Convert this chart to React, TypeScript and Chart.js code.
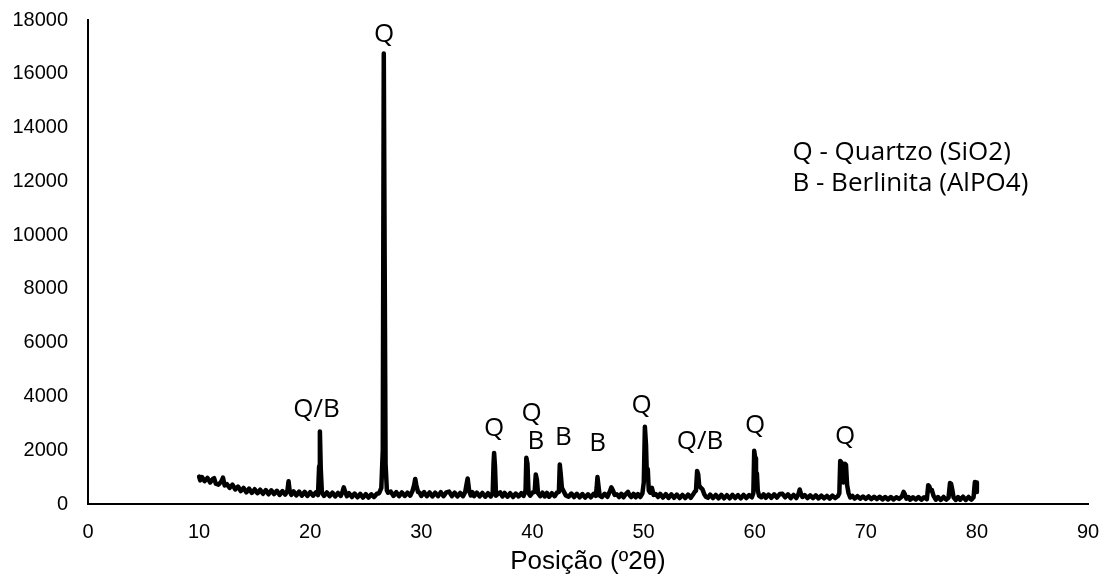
import React, { useEffect, useRef } from "react";
import { Chart, registerables } from "chart.js";

Chart.register(...registerables);

// XRD pattern: [position (°2θ), intensity (counts)]
const xrdPattern: [number, number][] = [
  [10.0, 1020], [10.1, 880], [10.25, 1000], [10.5, 850], [10.75, 970], [11.0, 800],
  [11.25, 940], [11.35, 960], [11.5, 760], [11.75, 720], [12.0, 840], [12.15, 980],
  [12.3, 690], [12.5, 740], [12.75, 600], [13.0, 720], [13.25, 540], [13.5, 650],
  [13.75, 480], [14.0, 600], [14.25, 430], [14.5, 570], [14.75, 410], [15.0, 550],
  [15.25, 400], [15.5, 530], [15.75, 380], [16.0, 520], [16.25, 360], [16.5, 510],
  [16.75, 370], [17.0, 490], [17.25, 340], [17.5, 480], [17.75, 350], [17.95, 500],
  [18.05, 850], [18.15, 480], [18.3, 340], [18.5, 470], [18.75, 320], [19.0, 460],
  [19.25, 310], [19.5, 450], [19.75, 300], [20.0, 440], [20.25, 310], [20.5, 430],
  [20.7, 330], [20.8, 1400], [20.87, 2700], [20.95, 1300], [21.05, 430], [21.25, 300],
  [21.5, 430], [21.75, 290], [22.0, 420], [22.25, 280], [22.5, 410], [22.75, 300],
  [22.9, 450], [23.02, 620], [23.15, 450], [23.3, 290], [23.5, 400], [23.75, 260],
  [24.0, 390], [24.25, 250], [24.5, 380], [24.75, 240], [25.0, 370], [25.25, 240],
  [25.5, 360], [25.75, 260], [26.0, 380], [26.2, 400], [26.4, 600], [26.53, 2000],
  [26.62, 16750], [26.7, 9000], [26.78, 1500], [26.9, 500], [27.0, 420], [27.25, 460],
  [27.5, 300], [27.75, 440], [28.0, 290], [28.25, 430], [28.5, 300], [28.75, 420],
  [29.0, 310], [29.2, 480], [29.35, 700], [29.45, 930], [29.55, 700], [29.7, 450],
  [29.85, 420], [30.0, 300], [30.25, 440], [30.5, 290], [30.75, 430], [31.0, 280],
  [31.25, 420], [31.5, 290], [31.75, 440], [32.0, 290], [32.25, 430], [32.5, 460],
  [32.75, 290], [33.0, 420], [33.25, 280], [33.5, 410], [33.75, 290], [33.95, 450],
  [34.1, 800], [34.17, 950], [34.3, 500], [34.45, 320], [34.6, 440], [34.75, 290],
  [35.0, 420], [35.25, 280], [35.5, 410], [35.75, 270], [36.0, 400], [36.25, 280],
  [36.42, 380], [36.5, 1500], [36.55, 1900], [36.63, 1400], [36.72, 310], [36.9, 380],
  [37.1, 430], [37.3, 280], [37.5, 410], [37.75, 270], [38.0, 400], [38.25, 260],
  [38.5, 390], [38.75, 280], [39.0, 400], [39.2, 300], [39.38, 500], [39.45, 1720],
  [39.55, 1500], [39.65, 400], [39.8, 310], [40.0, 420], [40.2, 450], [40.3, 1100],
  [40.4, 900], [40.5, 400], [40.7, 290], [40.9, 420], [41.1, 280], [41.3, 410],
  [41.5, 270], [41.75, 400], [42.0, 290], [42.2, 420], [42.38, 450], [42.46, 1470],
  [42.55, 1100], [42.65, 600], [42.8, 480], [43.0, 320], [43.25, 270], [43.5, 390],
  [43.75, 260], [44.0, 380], [44.25, 250], [44.5, 370], [44.75, 240], [45.0, 360],
  [45.25, 250], [45.5, 380], [45.7, 300], [45.78, 600], [45.85, 1000], [45.95, 650],
  [46.05, 310], [46.25, 260], [46.5, 380], [46.75, 270], [46.95, 450], [47.1, 620],
  [47.25, 500], [47.4, 340], [47.6, 360], [47.8, 260], [48.0, 380], [48.2, 250],
  [48.4, 370], [48.6, 450], [48.75, 320], [48.9, 260], [49.1, 380], [49.3, 250],
  [49.5, 370], [49.7, 260], [49.9, 400], [50.02, 800], [50.12, 2870], [50.22, 2200],
  [50.3, 1000], [50.38, 1300], [50.47, 500], [50.6, 420], [50.75, 600], [50.9, 340],
  [51.1, 370], [51.3, 260], [51.5, 380], [51.75, 240], [52.0, 370], [52.25, 230],
  [52.5, 360], [52.75, 230], [53.0, 350], [53.25, 220], [53.5, 340], [53.75, 220],
  [54.0, 350], [54.25, 230], [54.45, 350], [54.6, 450], [54.72, 500], [54.82, 1230],
  [54.92, 1100], [55.0, 700], [55.15, 600], [55.3, 550], [55.45, 380], [55.6, 270],
  [55.8, 230], [56.0, 350], [56.25, 220], [56.5, 340], [56.75, 210], [57.0, 340],
  [57.25, 210], [57.5, 330], [57.75, 210], [58.0, 340], [58.25, 220], [58.5, 330],
  [58.75, 210], [59.0, 340], [59.25, 220], [59.5, 330], [59.75, 250], [59.88, 400],
  [59.96, 1980], [60.05, 1700], [60.12, 1000], [60.2, 1150], [60.28, 500], [60.4, 300],
  [60.6, 250], [60.8, 360], [61.0, 230], [61.25, 350], [61.5, 230], [61.75, 360],
  [62.0, 240], [62.25, 370], [62.5, 380], [62.75, 250], [63.0, 360], [63.25, 220],
  [63.5, 340], [63.75, 220], [63.95, 380], [64.05, 540], [64.15, 400], [64.3, 260],
  [64.5, 330], [64.75, 220], [65.0, 320], [65.25, 220], [65.5, 320], [65.75, 210],
  [66.0, 310], [66.25, 210], [66.5, 300], [66.75, 200], [67.0, 310], [67.25, 220],
  [67.5, 300], [67.62, 400], [67.7, 1600], [67.8, 1550], [67.88, 900], [67.98, 800],
  [68.05, 900], [68.12, 1500], [68.22, 1450], [68.32, 700], [68.45, 400], [68.6, 240],
  [68.8, 300], [69.0, 200], [69.25, 290], [69.5, 200], [69.75, 280], [70.0, 190],
  [70.25, 280], [70.5, 180], [70.75, 270], [71.0, 180], [71.25, 270], [71.5, 170],
  [71.75, 260], [72.0, 170], [72.25, 260], [72.5, 170], [72.75, 250], [73.0, 190],
  [73.25, 280], [73.4, 450], [73.5, 380], [73.65, 200], [73.85, 260], [74.0, 160],
  [74.25, 250], [74.5, 170], [74.75, 260], [75.0, 160], [75.25, 250], [75.5, 180],
  [75.62, 700], [75.72, 650], [75.85, 500], [75.95, 520], [76.1, 300], [76.3, 160],
  [76.5, 260], [76.75, 150], [77.0, 260], [77.25, 160], [77.45, 240], [77.58, 780],
  [77.68, 750], [77.8, 500], [77.9, 250], [78.1, 150], [78.3, 260], [78.5, 160],
  [78.75, 270], [79.0, 150], [79.25, 260], [79.5, 160], [79.7, 250], [79.82, 820],
  [79.92, 800], [80.0, 450],
];

// Phase labels above peaks
const peakLabelTexts = ["Q/B", "Q", "Q", "Q", "B", "B", "B", "Q", "Q/B", "Q", "Q"];
const peakLabelAngles = [20.57, 26.64, 36.54, 39.93, 40.32, 42.78, 45.87, 49.83, 55.08, 60.03, 68.13];
const peakLabelHeights = [3520, 17440, 2815, 3380, 2307, 2456, 2247, 3667, 2333, 2926, 2493];

// Legend note
const legendLines = ["Q - Quartzo (SiO2)", "B - Berlinita (AlPO4)"];
const legendAngle = 63.4;
const legendHeights = [13080, 11920];

const xAxisTitle = "Posição (º2θ)";
const xMin = 0, xMax = 90, xStep = 10;
const yMin = 0, yMax = 18000, yStep = 2000;

const labelFont = "26px 'Open Sans', 'DejaVu Sans', sans-serif";

const annotationPlugin = {
  id: "xrdAnnotations",
  afterDatasetsDraw(chart: any) {
    const { ctx, scales } = chart;
    const xs = scales.x, ys = scales.y;
    ctx.save();
    ctx.fillStyle = "#000";
    ctx.font = labelFont;
    ctx.textAlign = "center";
    ctx.textBaseline = "middle";
    peakLabelTexts.forEach((t, i) => {
      ctx.fillText(t, xs.getPixelForValue(peakLabelAngles[i]), ys.getPixelForValue(peakLabelHeights[i]));
    });
    ctx.textAlign = "left";
    legendLines.forEach((t, i) => {
      ctx.fillText(t, xs.getPixelForValue(legendAngle), ys.getPixelForValue(legendHeights[i]));
    });
    ctx.restore();
  },
};

export default function App() {
  const canvasRef = useRef<HTMLCanvasElement | null>(null);

  useEffect(() => {
    if (!canvasRef.current) return;
    const chart = new Chart(canvasRef.current, {
      type: "line",
      data: {
        datasets: [
          {
            data: xrdPattern.map(([x, y]) => ({ x, y })),
            borderColor: "#000",
            borderWidth: 4.5,
            pointRadius: 0,
            tension: 0,
            borderJoinStyle: "round",
            borderCapStyle: "round",
            fill: false,
          },
        ],
      },
      options: {
        animation: false,
        responsive: true,
        maintainAspectRatio: false,
        layout: { padding: { top: 20, right: 16, left: 0, bottom: 0 } },
        plugins: { legend: { display: false }, tooltip: { enabled: false } },
        scales: {
          x: {
            type: "linear",
            min: xMin,
            max: xMax,
            afterFit: (s: any) => {
              s.height = 73;
              s.paddingLeft = 0;
              s.paddingRight = 0;
            },
            ticks: {
              stepSize: xStep,
              color: "#000",
              padding: 16,
              maxRotation: 0,
              font: { family: "'Liberation Sans', Arial, sans-serif", size: 20 },
            },
            grid: { drawOnChartArea: false, drawTicks: false },
            border: { display: true, color: "#000", width: 2 },
            title: {
              display: true,
              text: xAxisTitle,
              color: "#000",
              padding: { top: 0, bottom: 0 },
              font: { family: "'Liberation Sans', Arial, sans-serif", size: 26 },
            },
          },
          y: {
            type: "linear",
            min: yMin,
            max: yMax,
            afterFit: (s: any) => {
              s.width = 88;
              s.paddingTop = 0;
              s.paddingBottom = 0;
            },
            ticks: {
              stepSize: yStep,
              color: "#000",
              padding: 20,
              callback: (v: any) => String(v),
              font: { family: "'Liberation Sans', Arial, sans-serif", size: 20 },
            },
            grid: { drawOnChartArea: false, drawTicks: false },
            border: { display: true, color: "#000", width: 2 },
          },
        },
      },
      plugins: [annotationPlugin],
    } as any);
    return () => chart.destroy();
  }, []);

  return (
    <div style={{ position: "absolute", left: 0, top: 0, width: 1104, height: 577, background: "#fff" }}>
      <canvas ref={canvasRef} />
    </div>
  );
}
